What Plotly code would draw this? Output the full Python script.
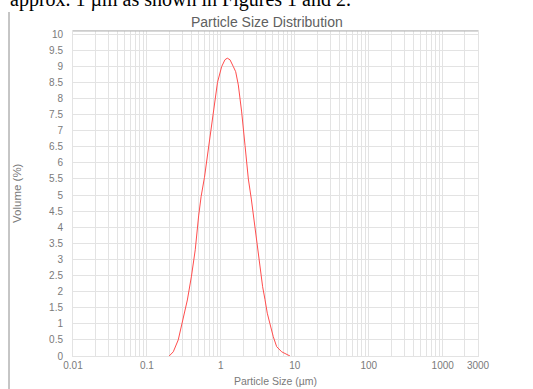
import plotly.graph_objects as go
import math

# ---- data ----
size_um = [0.20, 0.227, 0.265, 0.30, 0.352, 0.40, 0.45, 0.50, 0.54, 0.60, 0.70,
           0.80, 0.90, 1.025, 1.135, 1.22, 1.328, 1.472, 1.585, 1.72, 1.91, 2.12,
           2.35, 2.58, 2.89, 3.10, 3.31, 3.49, 3.67, 3.95, 4.24, 4.61, 5.11, 5.68,
           6.64, 8.6]
volume_pct = [0.0, 0.13, 0.5, 1.0, 1.74, 2.48, 3.3, 4.35, 4.95, 5.55, 6.65,
              7.65, 8.5, 8.99, 9.2, 9.25, 9.2, 8.99, 8.83, 8.42, 7.58, 6.54,
              5.5, 4.875, 4.0, 3.5, 3.0, 2.5, 2.15, 1.75, 1.33, 1.0, 0.6, 0.29,
              0.13, 0.0]

x_major_vals = [0.01, 0.1, 1, 10, 100, 1000, 3000]
x_major_text = ["0.01", "0.1", "1", "10", "100", "1000", "3000"]
y_tick_vals = [i * 0.5 for i in range(21)]
y_tick_text = ["0", "0.5", "1", "1.5", "2", "2.5", "3", "3.5", "4", "4.5", "5",
               "5.5", "6", "6.5", "7", "7.5", "8", "8.5", "9", "9.5", "10"]

# all log gridline positions (1..9 per decade) up to 3000
grid_vals = []
for d in range(-2, 4):
    for m in range(1, 10):
        v = m * 10 ** d
        if v <= 3000 + 1e-9:
            grid_vals.append(round(v, 6))
grid_text = []
for v in grid_vals:
    lbl = ""
    for mv, mt in zip(x_major_vals, x_major_text):
        if abs(v - mv) < 1e-9:
            lbl = mt
    grid_text.append(lbl)

W, H = 533, 389
L, R, T, B = 73, 55, 31, 33
pw, ph = W - L - R, H - T - B


def px_x(p):
    return (p - L) / pw


def px_y(p):
    return (H - B - p) / ph


GRID = "#e3e3e3"
TXT = "#7a7a7a"

fig = go.Figure()
fig.add_trace(go.Scatter(x=size_um, y=volume_pct, mode="lines",
                         line=dict(color="#ff4d4d", width=1),
                         hoverinfo="skip", showlegend=False))

fig.update_layout(
    width=W, height=H,
    margin=dict(l=L, r=R, t=T, b=B, pad=0),
    paper_bgcolor="white", plot_bgcolor="white",
    font=dict(family="Liberation Sans, Arial, sans-serif", size=10, color=TXT),
    showlegend=False,
)

fig.update_xaxes(
    type="log", range=[-2, math.log10(3000)],
    tickmode="array", tickvals=grid_vals, ticktext=grid_text,
    showgrid=True, gridcolor=GRID, gridwidth=1,
    ticks="", showline=True, linecolor=GRID, mirror=True,
    zeroline=False, tickfont=dict(size=10, color=TXT),
)
fig.update_yaxes(
    range=[0, 10.094],
    tickmode="array", tickvals=y_tick_vals, ticktext=y_tick_text,
    showgrid=True, gridcolor=GRID, gridwidth=1,
    ticks="outside", ticklen=7, tickcolor="rgba(0,0,0,0)",
    showline=True, linecolor=GRID, mirror=True,
    zeroline=False, tickfont=dict(size=10, color=TXT),
)

# darker top border
fig.add_shape(type="line", xref="paper", yref="paper", x0=0, x1=1, y0=1, y1=1,
              line=dict(color="#b4b4b4", width=1))
# left page rule
fig.add_shape(type="line", xref="paper", yref="paper",
              x0=px_x(9), x1=px_x(9), y0=px_y(12), y1=px_y(389),
              line=dict(color="#8c8c8c", width=1))

# chart title
fig.add_annotation(text="Particle Size Distribution", xref="paper", yref="paper",
                   x=px_x(267), y=px_y(22), xanchor="center", yanchor="middle",
                   showarrow=False, font=dict(size=14, color="#606060"))
# axis titles
fig.add_annotation(text="Particle Size (µm)", xref="paper", yref="paper",
                   x=px_x(275), y=px_y(381), xanchor="center", yanchor="middle",
                   showarrow=False, font=dict(size=10.5, color=TXT))
fig.add_annotation(text="Volume (%)", xref="paper", yref="paper",
                   x=px_x(17), y=px_y(193), xanchor="center", yanchor="middle",
                   textangle=-90, showarrow=False, font=dict(size=11.5, color=TXT))
# cut-off body text above the figure
fig.add_annotation(text="approx. 1 µm as shown in Figures 1 and 2.", xref="paper",
                   yref="paper", x=px_x(8), y=px_y(0), xanchor="left",
                   yanchor="middle", showarrow=False,
                   font=dict(family="Liberation Serif, Times New Roman, serif",
                             size=20, color="black"))

fig.write_html("out.html",
               config={"displayModeBar": False},
               post_script="document.body.style.margin='0px';"
                           "document.body.style.overflow='hidden';")
